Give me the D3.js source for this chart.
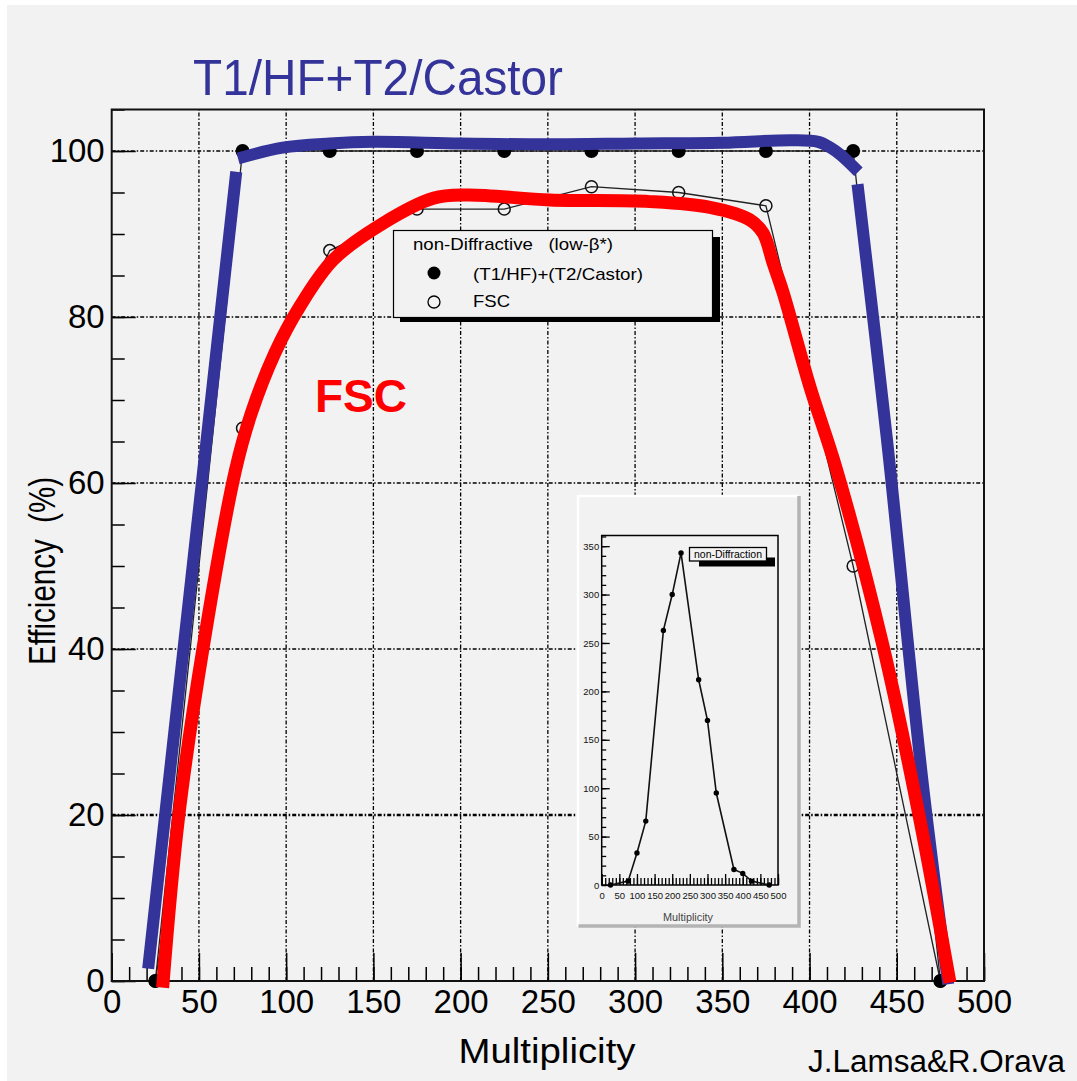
<!DOCTYPE html>
<html>
<head>
<meta charset="utf-8">
<script src="https://cdn.jsdelivr.net/npm/d3@7/dist/d3.min.js"></script>
<style>
  html, body { margin: 0; padding: 0; background: #fff; }
  svg { display: block; font-family: "Liberation Sans", Arial, sans-serif; }
</style>
</head>
<body>
<div id="chart"></div>
<script>
// Efficiency of the forward detectors vs. multiplicity (non-diffractive, low beta*)

// Measured points: bin centres and efficiencies in %
const multiplicity = [25, 75, 125, 175, 225, 275, 325, 375, 425, 475];
const effT1T2 = [0, 100, 100, 100, 100, 100, 100, 100, 100, 0];
const effFSC = [0, 66.6, 88, 93, 93, 95.7, 95, 93.4, 50, 0];

// Hand drawn guide curves laid over the plot, [multiplicity, efficiency]
const blueRise = [[20.9, 1.5], [71.4, 97.5]];
const bluePlateau = [
  [72.4, 99.1], [98, 100.4], [125, 100.9], [150, 101.1], [200, 100.9],
  [250, 100.8], [300, 100.9], [350, 101], [390, 101.3], [405, 101.1],
  [412, 100.4], [418, 99.5], [428, 97.5]
];
const blueFall = [[427.5, 96], [444.4, 65.2], [465, 23.6], [479.5, -0.4]];
const redCurve = [
  [29.2, -0.8], [38.2, 19.5], [52.5, 40.3], [71, 61.6], [80, 68.4],
  [93.6, 75.7], [107.9, 81.3], [127, 86.9], [155.6, 91.3], [184.3, 94.3],
  [203.4, 94.7], [251.3, 94.1], [308.5, 93.9], [342.9, 93.2], [365.8, 91.7],
  [373.4, 90.1], [379.1, 86.5], [384.9, 82.9], [400.2, 71.6], [415.5, 61.6],
  [442.2, 40.3], [463.2, 19.5], [480.5, -0.2]
];

// Inset: multiplicity distribution
const insetMult = [25, 75, 100, 125, 175, 200, 225, 275, 300, 325, 375, 400, 425, 475];
const insetCounts = [0, 4, 33, 66, 263, 300, 343, 212, 170, 95, 16, 12, 4, 0];

// Tick labels
const xTickValues = [0, 50, 100, 150, 200, 250, 300, 350, 400, 450, 500];
const yTickValues = [0, 20, 40, 60, 80, 100];
const gridX = [50, 100, 150, 200, 250, 300, 350, 400, 450];
const gridY = [20, 40, 60, 80, 100];
const insetXTicks = [0, 50, 100, 150, 200, 250, 300, 350, 400, 450, 500];
const insetYTicks = [0, 50, 100, 150, 200, 250, 300, 350];

// Text
const titleText = 'T1/HF+T2/Castor';
const legendTitle = 'non-Diffractive   (low-\u03b2*)';
const legendLabels = ['(T1/HF)+(T2/Castor)', 'FSC'];

const width = 1077;
const height = 1081;
const bg = '#f2f2f2';
const blue = '#333399';
const red = '#ff0000';

const svg = d3.select('#chart')
  .append('svg')
  .attr('width', width)
  .attr('height', height);

// page background (thin white margin at top/left)
svg.append('rect')
  .attr('x', 7).attr('y', 5)
  .attr('width', width - 7).attr('height', height - 5)
  .attr('fill', bg);

const x = d3.scaleLinear().domain([0, 500]).range([111.7, 984]);
const y = d3.scaleLinear().domain([0, 105]).range([981, 109.5]);

// grid
const grid = svg.append('g')
  .attr('stroke', '#000')
  .attr('stroke-dasharray', '4,2,1.5,2');

grid.selectAll('.gx')
  .data(gridX)
  .join('line')
  .attr('x1', d => x(d)).attr('x2', d => x(d))
  .attr('y1', y(0)).attr('y2', y(105))
  .attr('stroke-width', 1.3);

grid.selectAll('.gy')
  .data(gridY)
  .join('line')
  .attr('x1', x(0)).attr('x2', x(500))
  .attr('y1', d => y(d)).attr('y2', d => y(d))
  .attr('stroke-width', d => d === 20 ? 2.4 : 1.3);

// axes, ticks point into the frame
const axisFont = g => g
  .attr('font-family', '"Liberation Sans", Arial, sans-serif')
  .attr('font-size', 33)
  .call(g => g.select('.domain').remove())
  .call(g => g.selectAll('line').attr('stroke', '#000').attr('stroke-width', 1.5));

svg.append('g')
  .attr('transform', 'translate(0,' + y(0) + ')')
  .call(d3.axisBottom(x).ticks(50).tickSize(-14).tickFormat(''))
  .call(axisFont);

svg.append('g')
  .attr('transform', 'translate(0,' + y(0) + ')')
  .call(d3.axisBottom(x).tickValues(xTickValues).tickSize(-28).tickPadding(9))
  .call(axisFont)
  .call(g => g.selectAll('text').attr('fill', '#000'));

svg.append('g')
  .attr('transform', 'translate(' + x(0) + ',0)')
  .call(d3.axisLeft(y).ticks(21).tickSize(-13).tickFormat(''))
  .call(axisFont);

svg.append('g')
  .attr('transform', 'translate(' + x(0) + ',0)')
  .call(d3.axisLeft(y).tickValues(yTickValues).tickSize(-24).tickPadding(7))
  .call(axisFont)
  .call(g => g.selectAll('text').attr('fill', '#000'));

// frame
svg.append('rect')
  .attr('x', x(0)).attr('y', y(105))
  .attr('width', x(500) - x(0)).attr('height', y(0) - y(105))
  .attr('fill', 'none')
  .attr('stroke', '#111')
  .attr('stroke-width', 2);

// measured series
const pts = (vals) => multiplicity.map((m, i) => [m, vals[i]]);
const line = d3.line().x(d => x(d[0])).y(d => y(d[1]));

svg.append('path')
  .attr('d', line(pts(effT1T2)))
  .attr('fill', 'none').attr('stroke', '#222').attr('stroke-width', 1.3);

svg.append('path')
  .attr('d', line(pts(effFSC)))
  .attr('fill', 'none').attr('stroke', '#222').attr('stroke-width', 1.3);

svg.selectAll('.fsc')
  .data(pts(effFSC))
  .join('circle')
  .attr('cx', d => x(d[0])).attr('cy', d => y(d[1]))
  .attr('r', 6)
  .attr('fill', 'none').attr('stroke', '#111').attr('stroke-width', 1.5);

svg.selectAll('.t1t2')
  .data(pts(effT1T2))
  .join('circle')
  .attr('cx', d => x(d[0])).attr('cy', d => y(d[1]))
  .attr('r', 7)
  .attr('fill', '#000');

// legend
const lg = svg.append('g');
lg.append('rect')
  .attr('x', 400).attr('y', 237).attr('width', 320).attr('height', 85)
  .attr('fill', '#000');
lg.append('rect')
  .attr('x', 393.5).attr('y', 230.5).attr('width', 319).attr('height', 87)
  .attr('fill', bg).attr('stroke', '#000').attr('stroke-width', 1.2);
lg.append('text')
  .attr('x', 413).attr('y', 250)
  .attr('font-size', 17)
  .attr('textLength', 200)
  .attr('lengthAdjust', 'spacingAndGlyphs')
  .style('white-space', 'pre')
  .text(legendTitle);
lg.append('circle').attr('cx', 434).attr('cy', 273).attr('r', 6.5).attr('fill', '#000');
lg.append('circle').attr('cx', 434).attr('cy', 302).attr('r', 6)
  .attr('fill', 'none').attr('stroke', '#000').attr('stroke-width', 1.3);
lg.selectAll('.lab')
  .data(legendLabels)
  .join('text')
  .attr('x', 473).attr('y', (d, i) => 280 + i * 27)
  .attr('font-size', 17)
  .attr('textLength', (d, i) => i === 0 ? 170 : 37)
  .attr('lengthAdjust', 'spacingAndGlyphs')
  .text(d => d);

// inset with the multiplicity distribution
const inset = svg.append('g');
inset.append('rect')
  .attr('x', 577).attr('y', 495).attr('width', 223).attr('height', 432)
  .attr('fill', bg);
inset.append('path')
  .attr('d', 'M578,926 L578,496 L799,496')
  .attr('fill', 'none').attr('stroke', '#fff').attr('stroke-width', 2.5);
inset.append('path')
  .attr('d', 'M578.5,926 L799,926 L799,496')
  .attr('fill', 'none').attr('stroke', '#b4b4b4').attr('stroke-width', 3.5);

const ix = d3.scaleLinear().domain([0, 500]).range([601.7, 778]);
const iy = d3.scaleLinear().domain([0, 361]).range([885, 535.5]);

const insetAxisStyle = size => g => g
  .attr('font-family', '"Liberation Sans", Arial, sans-serif')
  .attr('font-size', size)
  .call(g => g.select('.domain').remove())
  .call(g => g.selectAll('line').attr('stroke', '#000').attr('stroke-width', 1.3))
  .call(g => g.selectAll('text').attr('fill', '#111'));

inset.append('g')
  .attr('transform', 'translate(0,' + iy(0) + ')')
  .call(d3.axisBottom(ix).ticks(50).tickSize(-7).tickFormat(''))
  .call(insetAxisStyle(9.5));
inset.append('g')
  .attr('transform', 'translate(0,' + iy(0) + ')')
  .call(d3.axisBottom(ix).tickValues(insetXTicks).tickSize(-11).tickPadding(7))
  .call(insetAxisStyle(9.5));
inset.append('g')
  .attr('transform', 'translate(' + ix(0) + ',0)')
  .call(d3.axisLeft(iy).ticks(36).tickSize(-4.5).tickFormat(''))
  .call(insetAxisStyle(9.5));
inset.append('g')
  .attr('transform', 'translate(' + ix(0) + ',0)')
  .call(d3.axisLeft(iy).tickValues(insetYTicks).tickSize(-8).tickPadding(2.5))
  .call(insetAxisStyle(9.5));

inset.append('rect')
  .attr('x', ix(0)).attr('y', iy(361))
  .attr('width', ix(500) - ix(0)).attr('height', iy(0) - iy(361))
  .attr('fill', 'none').attr('stroke', '#000').attr('stroke-width', 1.5);

const insetLine = d3.line().x(d => ix(d[0])).y(d => iy(d[1]));
const insetPts = insetMult.map((m, i) => [m, insetCounts[i]]);
inset.append('path')
  .attr('d', insetLine(insetPts))
  .attr('fill', 'none').attr('stroke', '#111').attr('stroke-width', 1.6);
inset.selectAll('.ip')
  .data(insetPts)
  .join('circle')
  .attr('cx', d => ix(d[0])).attr('cy', d => iy(d[1]))
  .attr('r', 2.7).attr('fill', '#000');

inset.append('rect')
  .attr('x', 699).attr('y', 557.5).attr('width', 76).attr('height', 9).attr('fill', '#000');
inset.append('rect')
  .attr('x', 689.5).attr('y', 547.5).attr('width', 77).attr('height', 13.5)
  .attr('fill', bg).attr('stroke', '#000').attr('stroke-width', 1.3);
inset.append('text')
  .attr('x', 728).attr('y', 557.5)
  .attr('text-anchor', 'middle')
  .attr('font-size', 10)
  .attr('textLength', 68)
  .attr('lengthAdjust', 'spacingAndGlyphs')
  .text('non-Diffraction');

inset.append('text')
  .attr('x', 688).attr('y', 921)
  .attr('text-anchor', 'middle')
  .attr('font-size', 10)
  .attr('fill', '#444')
  .attr('textLength', 50)
  .attr('lengthAdjust', 'spacingAndGlyphs')
  .text('Multiplicity');

// hand drawn guide curves on top
const curve = d3.line()
  .x(d => x(d[0])).y(d => y(d[1]))
  .curve(d3.curveCatmullRom.alpha(0.5));

[blueRise, bluePlateau, blueFall].forEach(seg => {
  svg.append('path')
    .attr('d', curve(seg))
    .attr('fill', 'none')
    .attr('stroke', blue)
    .attr('stroke-width', 12)
    .attr('stroke-linecap', 'butt');
});

svg.append('path')
  .attr('d', curve(redCurve))
  .attr('fill', 'none')
  .attr('stroke', red)
  .attr('stroke-width', 13)
  .attr('stroke-linejoin', 'round');

// titles and labels
svg.append('text')
  .attr('x', 193).attr('y', 95)
  .attr('font-size', 50)
  .attr('fill', blue)
  .attr('textLength', 370)
  .attr('lengthAdjust', 'spacingAndGlyphs')
  .text(titleText);

svg.append('text')
  .attr('x', 315).attr('y', 412)
  .attr('font-size', 46)
  .attr('font-weight', 'bold')
  .attr('fill', red)
  .text('FSC');

svg.append('text')
  .attr('transform', 'translate(55,571) rotate(-90)')
  .attr('text-anchor', 'middle')
  .attr('font-size', 37)
  .attr('textLength', 188)
  .attr('lengthAdjust', 'spacingAndGlyphs')
  .style('white-space', 'pre')
  .text('Efficiency  (%)');

svg.append('text')
  .attr('x', 547).attr('y', 1063)
  .attr('text-anchor', 'middle')
  .attr('font-size', 35)
  .attr('textLength', 177)
  .attr('lengthAdjust', 'spacingAndGlyphs')
  .text('Multiplicity');

svg.append('text')
  .attr('x', 808).attr('y', 1072)
  .attr('font-size', 31)
  .attr('textLength', 257)
  .attr('lengthAdjust', 'spacingAndGlyphs')
  .text('J.Lamsa&R.Orava');
</script>
</body>
</html>
